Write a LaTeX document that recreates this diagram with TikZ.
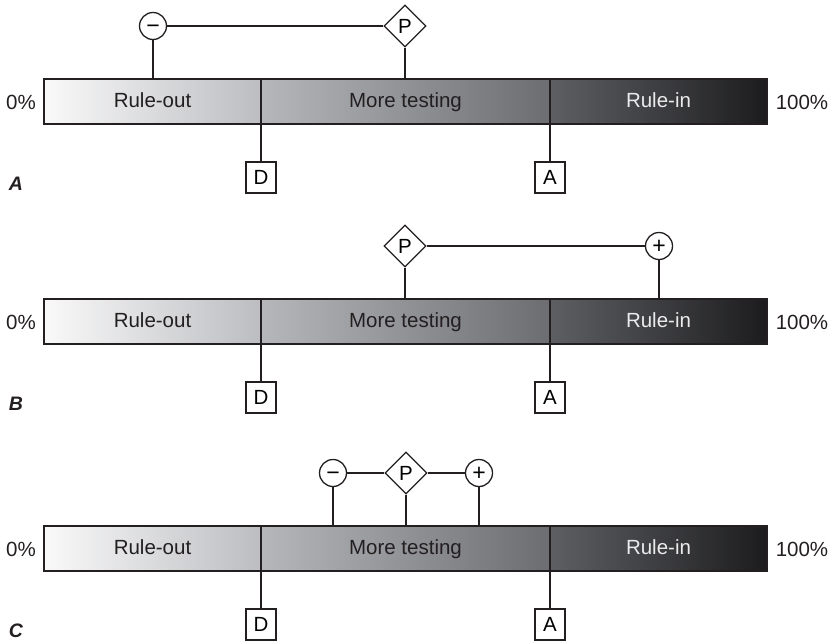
\documentclass[tikz,border=0pt]{standalone}
\usepackage{fontspec}
\setmainfont{Liberation Sans}
\usetikzlibrary{shapes.geometric}
\definecolor{ink}{HTML}{231F20}
\tikzset{
  conn/.style={draw=ink, line width=1.3pt},
  seg/.style={draw=ink, line width=1.3pt, minimum height=45pt, inner sep=0pt,
    text height=15pt, text depth=4pt,
    font=\fontsize{20.5}{24}\selectfont},
  circ/.style={circle, draw=ink, fill=white, line width=1.3pt, minimum size=27pt, inner sep=0pt,
    text height=15.2pt, text depth=0pt,
    font=\fontsize{23}{26}\selectfont},
  diam/.style={diamond, draw=ink, fill=white, line width=1.3pt, minimum size=42pt, inner sep=0pt,
    font=\fontsize{20.5}{24}\selectfont},
  sqbox/.style={rectangle, draw=ink, fill=white, line width=1.3pt, minimum width=30pt, minimum height=31pt,
    inner sep=0pt, font=\fontsize{20.5}{24}\selectfont},
  pct/.style={font=\fontsize{20.5}{24}\selectfont, text=ink},
  plabel/.style={font=\fontsize{19.5}{22}\selectfont\bfseries\itshape, text=ink},
}
\newcommand\mybar[1]{%
  \node[seg, minimum width=217pt, left color={rgb,255:red,249;green,249;blue,249},
        right color={rgb,255:red,188;green,189;blue,193}, text=ink] (ro) at (152.5,22.5) {Rule-out};
  \node[seg, minimum width=289pt, left color={rgb,255:red,182;green,183;blue,187},
        right color={rgb,255:red,108;green,109;blue,113}, text=ink] (mt) at (405.5,22.5) {More testing};
  \node[seg, minimum width=217pt, left color={rgb,255:red,94;green,95;blue,99},
        right color={rgb,255:red,28;green,28;blue,30}, text={rgb,255:red,235;green,235;blue,235}] (ri) at (658.5,22.5) {Rule-in};
  \node[pct] (zero) at (21,23) {0\%};
  \node[pct] (hund) at (802,23) {100\%};
  \node[sqbox] (D) at (261,98.5) {D};
  \node[sqbox] (A) at (550,98.5) {A};
  \node[plabel] (lab) at (16,105) {#1};
  \draw[conn] (D |- ro.south) -- (D.north);
  \draw[conn] (A |- ri.south) -- (A.north);
}
\begin{document}
\begin{tikzpicture}[x=1pt, y=-1pt]
\useasboundingbox (0,0) rectangle (833,643);
% Panel A
\begin{scope}[shift={(0,79)}, name prefix=pa-]
  \mybar{A}
  \node[circ] (m) at (153,-53) {−};
  \node[diam] (p) at (405,-53) {P};
  \draw[conn] (m) -- (p);
  \draw[conn] (m.south) -- (m |- ro.north);
  \draw[conn] (p.south) -- (p |- mt.north);
\end{scope}
% Panel B
\begin{scope}[shift={(0,299)}, name prefix=pb-]
  \mybar{B}
  \node[diam] (p) at (405,-53) {P};
  \node[circ] (pl) at (659,-53) {+};
  \draw[conn] (p) -- (pl);
  \draw[conn] (p.south) -- (p |- mt.north);
  \draw[conn] (pl.south) -- (pl |- ri.north);
\end{scope}
% Panel C
\begin{scope}[shift={(0,526)}, name prefix=pc-]
  \mybar{C}
  \node[circ] (m) at (333,-53) {−};
  \node[diam] (p) at (406,-53) {P};
  \node[circ] (pl) at (479,-53) {+};
  \draw[conn] (m) -- (p);
  \draw[conn] (p) -- (pl);
  \draw[conn] (m.south) -- (m |- mt.north);
  \draw[conn] (p.south) -- (p |- mt.north);
  \draw[conn] (pl.south) -- (pl |- mt.north);
\end{scope}
\end{tikzpicture}
\end{document}
